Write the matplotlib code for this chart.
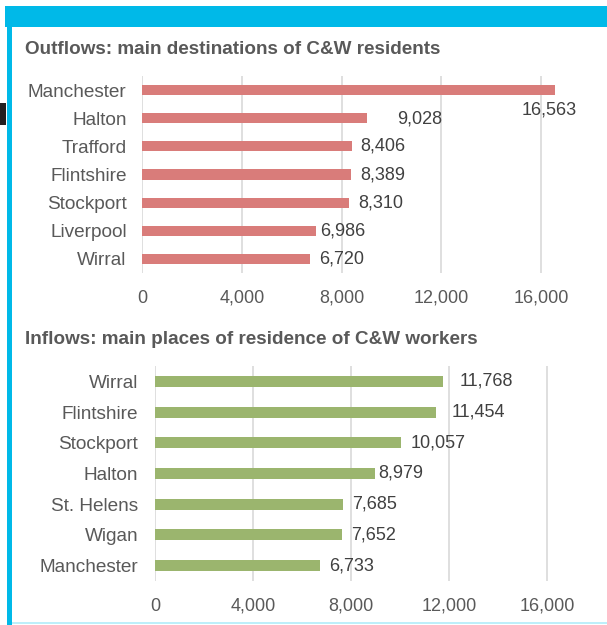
import matplotlib
matplotlib.use("Agg")
import matplotlib.pyplot as plt
from matplotlib.patches import Rectangle
from matplotlib.ticker import FuncFormatter

plt.rcParams["font.family"] = ["Liberation Sans", "DejaVu Sans"]

# data
out_places = ["Manchester", "Halton", "Trafford", "Flintshire", "Stockport", "Liverpool", "Wirral"]
out_values = [16563, 9028, 8406, 8389, 8310, 6986, 6720]

in_places = ["Wirral", "Flintshire", "Stockport", "Halton", "St. Helens", "Wigan", "Manchester"]
in_values = [11768, 11454, 10057, 8979, 7685, 7652, 6733]

x_ticks = [0, 4000, 8000, 12000, 16000]

RED = "#D97C7A"
GREEN = "#9BB56E"
GRID = "#DCDCDC"
TXT = "#595959"
VAL = "#404040"
CYAN = "#00B9E8"

W, H = 607, 625
fig = plt.figure(figsize=(W / 100, H / 100), dpi=100)


def px_axes(x0, y0, x1, y1):
    return fig.add_axes([x0 / W, 1 - y1 / H, (x1 - x0) / W, (y1 - y0) / H])


# frame decorations
fig.add_artist(Rectangle((5 / W, 1 - 27 / H), 1, 21 / H, transform=fig.transFigure,
                         color=CYAN, lw=0))
fig.add_artist(Rectangle((7 / W, 0), 5 / W, 1 - 27 / H, transform=fig.transFigure,
                         color=CYAN, lw=0))
fig.add_artist(Rectangle((0, 1 - 125 / H), 6 / W, 22 / H, transform=fig.transFigure,
                         color="#231F20", lw=0))
fig.add_artist(Rectangle((12 / W, 1 - 624 / H), 1, 2 / H, transform=fig.transFigure,
                         color="#BDEFFA", lw=0))


def draw(ax, names, vals, color, offsets, ypad):
    y = list(range(len(names)))
    ax.barh(y, vals, height=0.36, color=color, zorder=3)
    ax.set_ylim(len(names) - 0.5, -0.5)
    ax.set_xlim(0, 18000)
    ax.set_xticks(x_ticks)
    ax.xaxis.set_major_formatter(FuncFormatter(lambda v, p: f"{int(v):,}"))
    ax.set_yticks(y)
    ax.set_yticklabels(names)
    ax.grid(axis="x", color=GRID, lw=1.3, zorder=0)
    for s in ax.spines.values():
        s.set_visible(False)
    ax.tick_params(axis="both", length=0, colors=TXT, labelsize=13.7)
    ax.tick_params(axis="x", pad=12, labelsize=13)
    ax.tick_params(axis="y", pad=ypad)
    for i, v in enumerate(vals):
        dx, dy, ha = offsets.get(i, (9, 0, "left"))
        ax.annotate(f"{v:,}", (v, i), xytext=(dx, dy), textcoords="offset pixels",
                    ha=ha, va="center", fontsize=13, color=VAL, zorder=4)


ax1 = px_axes(142, 76, 591, 273)
draw(ax1, out_places, out_values, RED, {0: (-6, -20, "center"), 1: (30, -1, "left"),
                                         5: (4, 0, "left")}, 11)

ax2 = px_axes(155, 366, 596, 581)
draw(ax2, in_places, in_values, GREEN, {0: (16, 0, "left"), 1: (16, 0, "left"),
                                         3: (3, 0, "left")}, 12)

fig.text(25 / W, 1 - 50 / H, "Outflows: main destinations of C&W residents",
         fontsize=13.6, fontweight="bold", color=TXT, va="center")
fig.text(25 / W, 1 - 340 / H, "Inflows: main places of residence of C&W workers",
         fontsize=13.6, fontweight="bold", color=TXT, va="center")

fig.savefig("out.png", dpi=100)
